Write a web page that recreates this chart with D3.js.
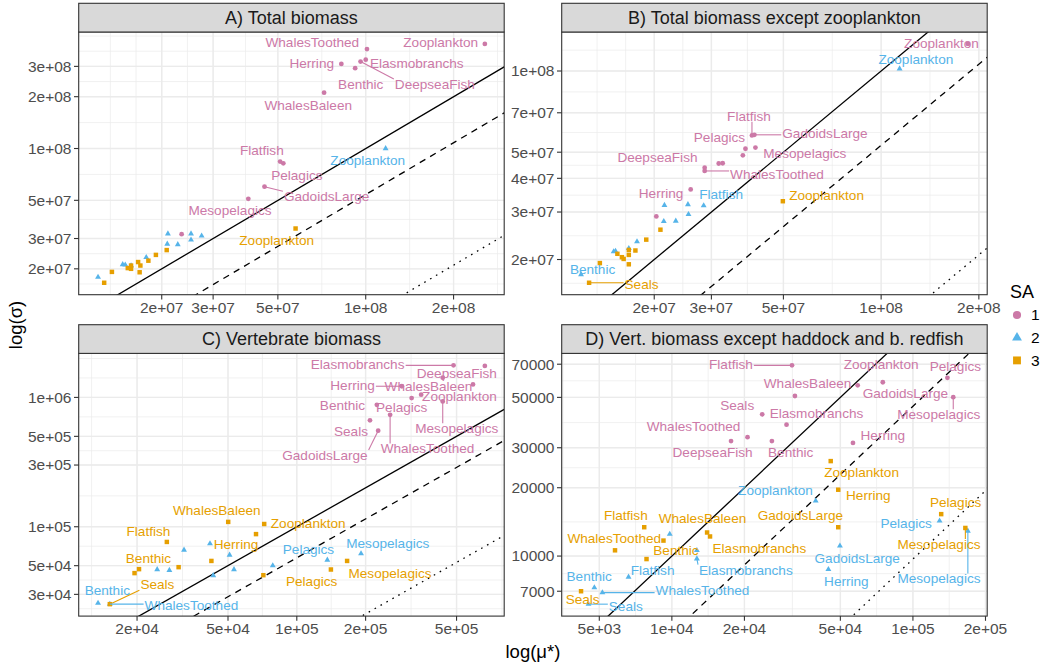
<!DOCTYPE html>
<html>
<head>
<meta charset="utf-8">
<script src="https://cdn.jsdelivr.net/npm/d3@7"></script>
<style>
  body { margin: 0; background: #fff; }
  text { font-family: "Liberation Sans", Arial, Helvetica, sans-serif; }
</style>
</head>
<body>
<svg id="chart" width="1043" height="667"></svg>
<script>
// ---- data ----
const groups = ['Benthic', 'DeepseaFish', 'Elasmobranchs', 'Flatfish', 'GadoidsLarge', 'Herring',
  'Mesopelagics', 'Pelagics', 'Seals', 'WhalesBaleen', 'WhalesToothed', 'Zooplankton'];
const saLevels = ['1', '2', '3'];

// A) Total biomass
const muA_SA1 = [9.2e7, 9.6e7, 1.0e8, 5.09e7, 4.5e7, 8.25e7, 3.96e7, 5.22e7, 2.34e7, 7.2e7, 1.01e8, 2.56e8];
const sigmaA_SA1 = [2.93e8, 3.2e8, 3.28e8, 8.4e7, 6.0e7, 3.1e8, 5.1e7, 8.2e7, 3.18e7, 2.11e8, 3.78e8, 4.05e8];
const muA_SA2 = [1.21e7, 2.52e7, 2.1e7, 2.74e7, 2.52e7, 2.09e7, 2.27e7, 1.77e7, 1.47e7, 1.5e7, 1.57e7, 1.17e8];
const sigmaA_SA2 = [1.79e7, 3.2e7, 3.2e7, 3.11e7, 2.95e7, 2.79e7, 2.77e7, 2.33e7, 2.12e7, 2.11e7, 2.09e7, 1.0e8];
const muA_SA3 = [1.35e7, 1.53e7, 1.57e7, 1.57e7, 1.66e7, 1.69e7, 1.68e7, 1.8e7, 1.27e7, 1.91e7, 2.08e7, 5.75e7];
const sigmaA_SA3 = [1.92e7, 2.02e7, 2.09e7, 2.0e7, 2.19e7, 2.09e7, 1.91e7, 2.23e7, 1.66e7, 2.41e7, 2.57e7, 3.43e7];

// B) Total biomass except zooplankton
const muB_SA1 = [3.16e7, 2.86e7, 3.25e7, 4.0e7, 4.07e7, 2.59e7, 4.1e7, 3.82e7, 2.03e7, 3.75e7, 2.86e7, 1.85e8];
const sigmaB_SA1 = [4.54e7, 4.38e7, 4.55e7, 5.77e7, 5.8e7, 3.64e7, 5.2e7, 5.15e7, 2.89e7, 4.87e7, 4.26e7, 1.26e8];
const muB_SA2 = [1.19e7, 2.15e7, 2.54e7, 2.84e7, 2.14e7, 2.33e7, 2.55e7, 1.77e7, 1.67e7, 1.5e7, 1.52e7, 1.14e8];
const sigmaB_SA2 = [1.76e7, 3.18e7, 3.2e7, 3.17e7, 2.77e7, 2.78e7, 2.94e7, 2.33e7, 2.2e7, 2.14e7, 2.15e7, 1.02e8];
const muB_SA3 = [1.36e7, 1.54e7, 1.59e7, 1.61e7, 1.67e7, 1.67e7, 1.67e7, 1.75e7, 1.26e7, 1.89e7, 2.09e7, 4.98e7];
const sigmaB_SA3 = [1.94e7, 2.1e7, 2.04e7, 2.01e7, 2.08e7, 1.92e7, 2.17e7, 2.16e7, 1.64e7, 2.37e7, 2.58e7, 3.29e7];

// C) Vertebrate biomass
const muC_SA1 = [2.24e5, 6.65e5, 4.85e5, 4.35e5, 2.27e5, 2.88e5, 4.35e5, 3.18e5, 2.09e5, 5.9e5, 2.56e5, 3.5e5];
const sigmaC_SA1 = [8.77e5, 1.75e6, 1.77e6, 1.42e6, 5.53e5, 1.22e6, 9.31e5, 9.88e5, 6.65e5, 1.26e6, 7.34e5, 1.05e6];
const muC_SA2 = [1.35e4, 2.77e4, 4.31e4, 3.21e4, 5.31e4, 4.17e4, 1.91e5, 1.36e5, 2.45e4, 5.08e4, 1.52e4, 7.85e4];
const sigmaC_SA2 = [2.57e4, 4.61e4, 4.2e4, 6.61e4, 4.67e4, 7.4e4, 6.2e4, 5.53e4, 4.67e4, 6.05e4, 2.52e4, 5.01e4];
const muC_SA3 = [2.04e4, 1.95e4, 3.04e4, 2.7e4, 6.63e4, 4.23e4, 1.66e5, 1.41e5, 1.52e4, 5.01e4, 7.14e4, 7.2e4];
const sigmaC_SA3 = [4.7e4, 4.38e4, 4.87e4, 7.63e4, 8.77e4, 5.44e4, 5.44e4, 4.67e4, 2.52e4, 1.09e5, 4.22e4, 1.05e5];

// D) Vert. biomass except haddock and b. redfish
const muD_SA1 = [2.6e4, 1.76e4, 2.99e4, 3.15e4, 5.9e4, 5.64e4, 1.47e5, 1.39e5, 2.37e4, 3.24e4, 2.06e4, 7.5e4];
const sigmaD_SA1 = [3.21e4, 3.21e4, 3.79e4, 6.92e4, 5.65e4, 3.15e4, 5.01e4, 6.1e4, 4.21e4, 5.07e4, 3.34e4, 5.83e4];
const muD_SA2 = [4.77e3, 9.8e3, 1.27e4, 6.61e3, 4.98e4, 4.46e4, 1.69e5, 1.29e5, 4.51e3, 1.27e4, 5.15e3, 3.95e4];
const sigmaD_SA2 = [7.26e3, 1.25e4, 9.73e3, 8.09e3, 1.11e4, 8.74e3, 1.29e4, 1.43e4, 6.14e3, 1.06e4, 6.9e3, 1.75e4];
const muD_SA3 = [7.85e3, 5.81e3, 1.44e4, 7.68e3, 4.9e4, 4.9e4, 1.65e5, 1.31e5, 4.2e3, 1.4e4, 9.23e3, 4.56e4];
const sigmaD_SA3 = [9.7e3, 1.06e4, 1.22e4, 1.34e4, 1.34e4, 1.96e4, 1.33e4, 1.53e4, 7.0e3, 1.27e4, 1.17e4, 2.62e4];

// reference lines sigma = ratio * mu (solid, dashed, dotted), per panel
const solidRatio = [1, 1, 1, 1];
const dashedRatio = [0.54, 0.53, 0.575, 0.457];
const dottedRatio = [0.105, 0.104, 0.106, 0.097];

// axis breaks
const xTicksA = [2e7, 3e7, 5e7, 1e8, 2e8];
const yTicksA = [2e7, 3e7, 5e7, 1e8, 2e8, 3e8];
const xTicksB = [2e7, 3e7, 5e7, 1e8, 2e8];
const yTicksB = [2e7, 3e7, 4e7, 5e7, 7e7, 1e8];
const xTicksC = [2e4, 5e4, 1e5, 2e5, 5e5];
const yTicksC = [3e4, 5e4, 1e5, 3e5, 5e5, 1e6];
const xTicksD = [5e3, 1e4, 2e4, 5e4, 1e5, 2e5];
const yTicksD = [7000, 10000, 20000, 30000, 50000, 70000];

// repelled label placement: [SA, group, log10 mu, log10 sigma, draw segment]
const labelsA = [
  [1, 'WhalesToothed', 7.817, 8.613, 0], [1, 'Zooplankton', 8.257, 8.613, 0],
  [1, 'Herring', 7.815, 8.491, 0], [1, 'Elasmobranchs', 8.175, 8.491, 0],
  [1, 'Benthic', 7.983, 8.372, 0], [1, 'DeepseaFish', 8.237, 8.372, 1],
  [1, 'WhalesBaleen', 7.803, 8.250, 0], [1, 'Flatfish', 7.644, 7.990, 0],
  [1, 'Pelagics', 7.764, 7.846, 0], [1, 'GadoidsLarge', 7.866, 7.720, 1],
  [1, 'Mesopelagics', 7.535, 7.639, 0],
  [2, 'Zooplankton', 8.007, 7.932, 0],
  [3, 'Zooplankton', 7.695, 7.466, 0]
];
const labelsB = [
  [1, 'Zooplankton', 8.186, 8.102, 0], [2, 'Zooplankton', 8.107, 8.043, 0],
  [1, 'Flatfish', 7.593, 7.832, 1], [1, 'GadoidsLarge', 7.827, 7.769, 1],
  [1, 'Pelagics', 7.502, 7.755, 0], [1, 'Mesopelagics', 7.765, 7.694, 0],
  [1, 'DeepseaFish', 7.311, 7.679, 0], [1, 'WhalesToothed', 7.679, 7.618, 1],
  [1, 'Herring', 7.322, 7.544, 0], [2, 'Flatfish', 7.507, 7.543, 0],
  [3, 'Zooplankton', 7.832, 7.540, 0], [2, 'Benthic', 7.111, 7.265, 0],
  [3, 'Seals', 7.262, 7.210, 1]
];
const labelsC = [
  [1, 'Elasmobranchs', 5.266, 6.258, 1], [1, 'DeepseaFish', 5.700, 6.187, 0],
  [1, 'Herring', 5.244, 6.092, 1], [1, 'WhalesBaleen', 5.576, 6.085, 0],
  [1, 'Zooplankton', 5.712, 6.008, 0], [1, 'Benthic', 5.200, 5.938, 0],
  [1, 'Pelagics', 5.459, 5.925, 0], [1, 'Mesopelagics', 5.700, 5.758, 1],
  [1, 'Seals', 5.237, 5.733, 0], [1, 'WhalesToothed', 5.572, 5.602, 1],
  [1, 'GadoidsLarge', 5.123, 5.551, 1],
  [3, 'WhalesBaleen', 4.650, 5.128, 0], [3, 'Zooplankton', 5.050, 5.028, 0],
  [3, 'Flatfish', 4.351, 4.964, 0], [3, 'Herring', 4.734, 4.864, 0],
  [3, 'Benthic', 4.351, 4.756, 0], [3, 'Seals', 4.390, 4.551, 1],
  [3, 'Pelagics', 5.065, 4.577, 0], [3, 'Mesopelagics', 5.408, 4.641, 0],
  [2, 'Benthic', 4.171, 4.505, 0], [2, 'WhalesToothed', 4.539, 4.389, 1],
  [2, 'Pelagics', 5.051, 4.825, 0], [2, 'Mesopelagics', 5.398, 4.869, 0]
];
const labelsD = [
  [1, 'Flatfish', 4.245, 4.845, 1], [1, 'Zooplankton', 4.868, 4.845, 0],
  [1, 'Pelagics', 5.176, 4.834, 0], [1, 'WhalesBaleen', 4.563, 4.759, 0],
  [1, 'GadoidsLarge', 4.969, 4.718, 0], [1, 'Seals', 4.271, 4.664, 0],
  [1, 'Elasmobranchs', 4.600, 4.630, 0], [1, 'Mesopelagics', 5.107, 4.623, 1],
  [1, 'WhalesToothed', 4.090, 4.571, 0], [1, 'Herring', 4.875, 4.531, 0],
  [1, 'DeepseaFish', 4.169, 4.456, 0], [1, 'Benthic', 4.493, 4.456, 0],
  [3, 'Flatfish', 3.809, 4.180, 0], [3, 'WhalesBaleen', 4.127, 4.166, 0],
  [3, 'GadoidsLarge', 4.533, 4.177, 0], [3, 'WhalesToothed', 3.761, 4.078, 0],
  [3, 'Benthic', 4.017, 4.026, 0], [3, 'Elasmobranchs', 4.363, 4.032, 0],
  [3, 'Seals', 3.630, 3.810, 0], [3, 'Zooplankton', 4.787, 4.368, 0],
  [3, 'Herring', 4.815, 4.268, 0], [3, 'Pelagics', 5.177, 4.236, 0],
  [3, 'Mesopelagics', 5.108, 4.051, 1],
  [2, 'Zooplankton', 4.430, 4.289, 0], [2, 'Pelagics', 4.972, 4.144, 0],
  [2, 'GadoidsLarge', 4.769, 3.990, 0], [2, 'Herring', 4.724, 3.887, 0],
  [2, 'Mesopelagics', 5.108, 3.899, 1], [2, 'Elasmobranchs', 4.307, 3.938, 1],
  [2, 'Flatfish', 3.920, 3.938, 0], [2, 'Benthic', 3.657, 3.909, 0],
  [2, 'WhalesToothed', 4.127, 3.847, 1], [2, 'Seals', 3.809, 3.777, 1]
];

// ---- styling / layout ----
const saColors = ['#CC79A7', '#56B4E9', '#E69F00'];
const saShapes = [d3.symbolCircle, d3.symbolTriangle, d3.symbolSquare];
const pointSize = [18, 15, 20];
const keySize = [52, 42, 62];

const colX = [78.7, 561.7];
const rowY = [3.3, 324.7];
const panelW = 425.5, stripH = 28.7, plotH = 262.7;

const sci = v => {
  const [m, e] = v.toExponential(0).split('e');
  return m + 'e' + e[0] + e.slice(1).padStart(2, '0');
};
const plain = v => String(v);

const panels = [
  { title: 'A) Total biomass', col: 0, row: 0,
    mu: [muA_SA1, muA_SA2, muA_SA3], sigma: [sigmaA_SA1, sigmaA_SA2, sigmaA_SA3],
    xTicks: xTicksA, yTicks: yTicksA, xFmt: sci, yFmt: sci, labels: labelsA },
  { title: 'B) Total biomass except zooplankton', col: 1, row: 0,
    mu: [muB_SA1, muB_SA2, muB_SA3], sigma: [sigmaB_SA1, sigmaB_SA2, sigmaB_SA3],
    xTicks: xTicksB, yTicks: yTicksB, xFmt: sci, yFmt: sci, labels: labelsB },
  { title: 'C) Vertebrate biomass', col: 0, row: 1,
    mu: [muC_SA1, muC_SA2, muC_SA3], sigma: [sigmaC_SA1, sigmaC_SA2, sigmaC_SA3],
    xTicks: xTicksC, yTicks: yTicksC, xFmt: sci, yFmt: sci, labels: labelsC },
  { title: 'D) Vert. biomass except haddock and b. redfish', col: 1, row: 1,
    mu: [muD_SA1, muD_SA2, muD_SA3], sigma: [sigmaD_SA1, sigmaD_SA2, sigmaD_SA3],
    xTicks: xTicksD, yTicks: yTicksD, xFmt: sci, yFmt: plain, labels: labelsD }
];

// log10 range of the data with ggplot's 5% expansion
function expandLog(vals) {
  const lo = d3.min(vals, v => Math.log10(v));
  const hi = d3.max(vals, v => Math.log10(v));
  const pad = (hi - lo) * 0.05;
  return [10 ** (lo - pad), 10 ** (hi + pad)];
}

// minor breaks: midpoints between majors (in log space), extended past the ends
function minorBreaks(majors, lim) {
  const b = majors.slice();
  const bd = d3.pairs(b, (a, c) => c - a);
  if (lim[0] < b[0]) b.unshift(b[0] - bd[0]);
  if (lim[1] > b[b.length - 1]) b.push(b[b.length - 1] + bd[bd.length - 1]);
  const out = [];
  for (let i = 0; i < b.length - 1; i++) out.push(b[i], (b[i] + b[i + 1]) / 2);
  out.push(b[b.length - 1]);
  return out.filter(v => v >= lim[0] && v <= lim[1]);
}

const svg = d3.select('#chart');
const defs = svg.append('defs');

panels.forEach((p, pi) => {
  const x0 = colX[p.col];
  const sTop = rowY[p.row];
  const y0 = sTop + stripH;

  const x = d3.scaleLog().domain(expandLog(p.mu.flat())).range([x0, x0 + panelW]);
  const y = d3.scaleLog().domain(expandLog(p.sigma.flat())).range([y0 + plotH, y0]);

  defs.append('clipPath').attr('id', 'clip' + pi)
    .append('rect').attr('x', x0).attr('y', y0).attr('width', panelW).attr('height', plotH);

  const g = svg.append('g').classed('panel', true);

  // grid
  const grid = g.append('g').classed('grid', true);
  const xLim = x.domain().map(Math.log10);
  const yLim = y.domain().map(Math.log10);
  minorBreaks(p.xTicks.map(Math.log10), xLim).forEach(v => {
    grid.append('line').attr('x1', x(10 ** v)).attr('x2', x(10 ** v))
      .attr('y1', y0).attr('y2', y0 + plotH)
      .attr('stroke', '#ebebeb').attr('stroke-width', 0.7);
  });
  minorBreaks(p.yTicks.map(Math.log10), yLim).forEach(v => {
    grid.append('line').attr('y1', y(10 ** v)).attr('y2', y(10 ** v))
      .attr('x1', x0).attr('x2', x0 + panelW)
      .attr('stroke', '#ebebeb').attr('stroke-width', 0.7);
  });
  p.xTicks.forEach(v => {
    grid.append('line').attr('x1', x(v)).attr('x2', x(v))
      .attr('y1', y0).attr('y2', y0 + plotH)
      .attr('stroke', '#ebebeb').attr('stroke-width', 1.4);
  });
  p.yTicks.forEach(v => {
    grid.append('line').attr('y1', y(v)).attr('y2', y(v))
      .attr('x1', x0).attr('x2', x0 + panelW)
      .attr('stroke', '#ebebeb').attr('stroke-width', 1.4);
  });

  // reference lines
  const refs = g.append('g').attr('clip-path', `url(#clip${pi})`);
  const [xa, xb] = x.domain();
  [[solidRatio[pi], null], [dashedRatio[pi], '6.5,5.5'], [dottedRatio[pi], '1.6,5.2']].forEach(([r, dash]) => {
    refs.append('line')
      .attr('x1', x(xa)).attr('y1', y(xa * r))
      .attr('x2', x(xb)).attr('y2', y(xb * r))
      .attr('stroke', '#000').attr('stroke-width', 1.3)
      .attr('stroke-dasharray', dash);
  });

  // points
  const pts = g.append('g').classed('points', true);
  p.mu.forEach((muArr, s) => {
    const rows = groups.map((name, i) => ({ name, mu: muArr[i], sigma: p.sigma[s][i] }));
    pts.selectAll(null)
      .data(rows)
      .enter()
      .append('path')
      .attr('d', d3.symbol().type(saShapes[s]).size(pointSize[s]))
      .attr('transform', d => `translate(${x(d.mu)},${y(d.sigma)})`)
      .attr('fill', saColors[s]);
  });

  // labels (with segments back to their points)
  const lab = g.append('g').classed('labels', true);
  p.labels.forEach(([sa, name, lmu, lsig, seg]) => {
    const s = sa - 1;
    const gi = groups.indexOf(name);
    const px = x(p.mu[s][gi]), py = y(p.sigma[s][gi]);
    const t = lab.append('text')
      .attr('x', x(10 ** lmu)).attr('y', y(10 ** lsig))
      .attr('text-anchor', 'middle').attr('dominant-baseline', 'central')
      .attr('font-size', 13.6).attr('fill', saColors[s])
      .text(name);
    if (seg) {
      const bb = t.node().getBBox();
      const pad = 1;
      const bx0 = bb.x - pad, bx1 = bb.x + bb.width + pad;
      const by0 = bb.y + 2, by1 = bb.y + bb.height - 2;
      const cx = Math.max(bx0, Math.min(px, bx1));
      const cy = Math.max(by0, Math.min(py, by1));
      lab.insert('line', 'text')
        .attr('x1', px).attr('y1', py).attr('x2', cx).attr('y2', cy)
        .attr('stroke', saColors[s]).attr('stroke-width', 1.1);
    }
  });

  // panel border
  g.append('rect').attr('x', x0).attr('y', y0).attr('width', panelW).attr('height', plotH)
    .attr('fill', 'none').attr('stroke', '#333').attr('stroke-width', 1.1);

  // strip
  g.append('rect').attr('x', x0).attr('y', sTop).attr('width', panelW).attr('height', stripH)
    .attr('fill', '#d9d9d9').attr('stroke', '#333').attr('stroke-width', 1.1);
  g.append('text').attr('x', x0 + panelW / 2).attr('y', sTop + stripH / 2 + 6.3)
    .attr('text-anchor', 'middle').attr('font-size', 18).attr('fill', '#1a1a1a')
    .text(p.title);

  // axes
  const ax = g.append('g').classed('axes', true);
  p.xTicks.forEach(v => {
    ax.append('line').attr('x1', x(v)).attr('x2', x(v))
      .attr('y1', y0 + plotH).attr('y2', y0 + plotH + 4.7)
      .attr('stroke', '#333').attr('stroke-width', 1.1);
    ax.append('text').attr('x', x(v)).attr('y', y0 + plotH + 17.8)
      .attr('text-anchor', 'middle').attr('font-size', 15.5).attr('fill', '#4d4d4d')
      .text(p.xFmt(v));
  });
  p.yTicks.forEach(v => {
    ax.append('line').attr('x1', x0 - 4.7).attr('x2', x0)
      .attr('y1', y(v)).attr('y2', y(v))
      .attr('stroke', '#333').attr('stroke-width', 1.1);
    ax.append('text').attr('x', x0 - 7.2).attr('y', y(v) + 5.4)
      .attr('text-anchor', 'end').attr('font-size', 15.5).attr('fill', '#4d4d4d')
      .text(p.yFmt(v));
  });
});

// axis titles
svg.append('text').attr('x', (colX[0] + colX[1] + panelW) / 2).attr('y', 658)
  .attr('text-anchor', 'middle').attr('font-size', 18.5).attr('fill', '#000')
  .text('log(μ*)');
svg.append('text').attr('transform', 'translate(22,325) rotate(-90)')
  .attr('text-anchor', 'middle').attr('font-size', 18.5).attr('fill', '#000')
  .text('log(σ)');

// legend
const leg = svg.append('g').classed('legend', true);
leg.append('text').attr('x', 1010).attr('y', 298).attr('font-size', 18).attr('fill', '#000').text('SA');
saLevels.forEach((lv, s) => {
  const ky = 315 + s * 22.7;
  leg.append('path')
    .attr('d', d3.symbol().type(saShapes[s]).size(keySize[s]))
    .attr('transform', `translate(1017,${ky})`)
    .attr('fill', saColors[s]);
  leg.append('text').attr('x', 1031).attr('y', ky + 5.4)
    .attr('font-size', 15.5).attr('fill', '#000').text(lv);
});
</script>
</body>
</html>
